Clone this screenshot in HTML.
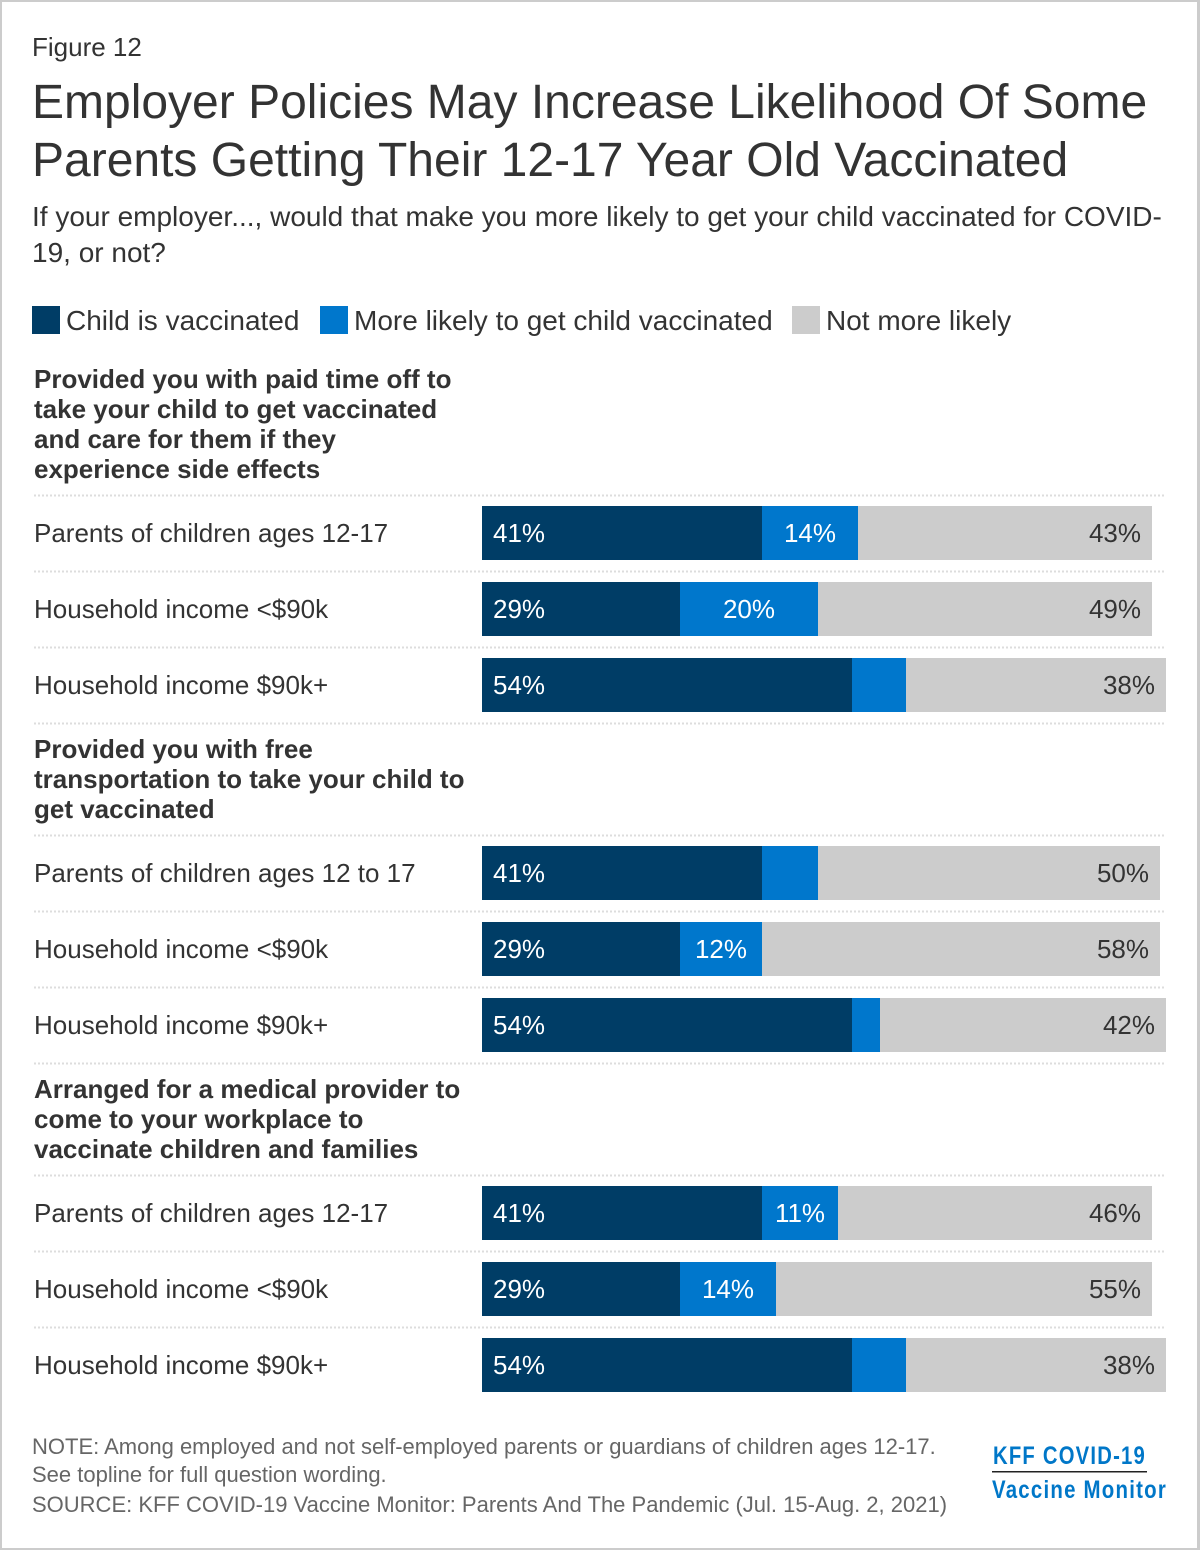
<!DOCTYPE html>
<html lang="en">
<head>
<meta charset="utf-8">
<title>Employer Policies May Increase Likelihood Of Some Parents Getting Their 12-17 Year Old Vaccinated</title>
<style>
html,body{margin:0;padding:0;background:#fff;}
svg{display:block;font-family:"Liberation Sans",sans-serif;}
</style>
</head>
<body>
<svg id="chart" xmlns="http://www.w3.org/2000/svg" width="1200" height="1550" viewBox="0 0 1200 1550">
  <rect x="0" y="0" width="1200" height="1550" fill="#cccccc"/>
  <rect x="2" y="2" width="1195" height="1546" fill="#ffffff"/>
  <text x="32" y="56" font-size="26" fill="#333">Figure 12</text>
  <text x="32" y="118" font-size="48" fill="#333">Employer Policies May Increase Likelihood Of Some</text>
  <text x="32" y="176" font-size="48" fill="#333">Parents Getting Their 12-17 Year Old Vaccinated</text>
  <text x="32" y="226" font-size="28" fill="#333">If your employer..., would that make you more likely to get your child vaccinated for COVID-</text>
  <text x="32" y="262" font-size="28" fill="#333">19, or not?</text>

  <g>
    <rect x="32" y="306" width="28" height="28" fill="#003d66"/>
    <text x="66" y="330" font-size="28" fill="#333">Child is vaccinated</text>
    <rect x="320" y="306" width="28" height="28" fill="#0077cc"/>
    <text x="354" y="330" font-size="28" fill="#333">More likely to get child vaccinated</text>
    <rect x="792" y="306" width="28" height="28" fill="#cccccc"/>
    <text x="826" y="330" font-size="28" fill="#333">Not more likely</text>
  </g>

  <g id="plot"></g>

  <g font-size="22" fill="#666">
    <text x="32" y="1454">NOTE: Among employed and not self-employed parents or guardians of children ages 12-17.</text>
    <text x="32" y="1482">See topline for full question wording.</text>
    <text x="32" y="1512">SOURCE: KFF COVID-19 Vaccine Monitor: Parents And The Pandemic (Jul. 15-Aug. 2, 2021)</text>
  </g>

  <g fill="#0077c8" font-weight="bold" font-size="25" letter-spacing="1.5">
    <text x="993" y="1464" textLength="153" lengthAdjust="spacingAndGlyphs">KFF COVID-19</text>
    <rect x="992" y="1471" width="155" height="1.5" fill="#222"/>
    <text x="992" y="1498" textLength="175" lengthAdjust="spacingAndGlyphs">Vaccine Monitor</text>
  </g>
</svg>

<script>
var groupHeadings = [
  ["Provided you with paid time off to", "take your child to get vaccinated", "and care for them if they", "experience side effects"],
  ["Provided you with free", "transportation to take your child to", "get vaccinated"],
  ["Arranged for a medical provider to", "come to your workplace to", "vaccinate children and families"]
];
var rowLabels = [
  ["Parents of children ages 12-17", "Household income <$90k", "Household income $90k+"],
  ["Parents of children ages 12 to 17", "Household income <$90k", "Household income $90k+"],
  ["Parents of children ages 12-17", "Household income <$90k", "Household income $90k+"]
];
var vaccinated = [[41, 29, 54.1], [41, 29, 54.1], [41, 29, 54.1]];
var moreLikely = [[14, 20.1, 7.9], [8.1, 12, 4.1], [11, 14, 7.9]];
var notMoreLikely = [[43, 48.9, 38], [50, 58.1, 41.8], [46, 55, 38]];

var plot = document.getElementById('plot');
var NS = 'http://www.w3.org/2000/svg';
var colorDark = '#003d66';
var colorBlue = '#0077cc';
var colorGrey = '#cccccc';
var textColor = '#333333';

function xScale(v) { return Math.round(482 + v * 6.84); }

function svgEl(tag, attrs) {
  var el = document.createElementNS(NS, tag);
  for (var k in attrs) { el.setAttribute(k, attrs[k]); }
  plot.appendChild(el);
  return el;
}
function drawDivider(y) {
  var el = svgEl('line', {x1: 34, x2: 1166, y1: y + 0.5, y2: y + 0.5, stroke: '#dddddd', 'stroke-width': 2, 'stroke-dasharray': '2 2'});
  
  
}
function drawSegment(x0, x1, y, fill, name) {
  var el = svgEl('rect', {x: x0, y: y, width: x1 - x0, height: 54, fill: fill});
  
  
}
function drawValue(x, y, anchor, fill, str, name) {
  var el = svgEl('text', {x: x, y: y, 'text-anchor': anchor, fill: fill, 'font-size': 26});
  el.textContent = str;
  
  
}

var cursor = 361;
groupHeadings.forEach(function (lines, g) {
  lines.forEach(function (line, i) {
    var h = svgEl('text', {x: 34, y: cursor + 27 + i * 30, 'font-size': 26, 'font-weight': 'bold', fill: textColor});
    h.textContent = line;
    
    
  });
  cursor += lines.length * 30 + 14;
  rowLabels[g].forEach(function (label, r) {
    drawDivider(cursor);
    var barTop = cursor + 11;
    var base = barTop + 36;
    var lab = svgEl('text', {x: 34, y: base, 'font-size': 26, fill: textColor});
    lab.textContent = label;
    
    

    var a = vaccinated[g][r];
    var b = moreLikely[g][r];
    var c = notMoreLikely[g][r];
    var x0 = xScale(0);
    var x1 = xScale(a);
    var x2 = xScale(a + b);
    var x3 = xScale(a + b + c);
    drawSegment(x0, x1, barTop, colorDark, 'bar-child-vaccinated');
    drawSegment(x1, x2, barTop, colorBlue, 'bar-more-likely');
    drawSegment(x2, x3, barTop, colorGrey, 'bar-not-more-likely');
    drawValue(x0 + 11, base, 'start', '#ffffff', Math.round(a) + '%', 'value-child-vaccinated');
    if (b >= 10) {
      drawValue((x1 + x2) / 2, base, 'middle', '#ffffff', Math.round(b) + '%', 'value-more-likely');
    }
    drawValue(x3 - 11, base, 'end', textColor, Math.round(c) + '%', 'value-not-more-likely');
    cursor += 76;
  });
  if (g < groupHeadings.length - 1) {
    drawDivider(cursor);
    cursor += 8;
  }
});
</script>
</body>
</html>
